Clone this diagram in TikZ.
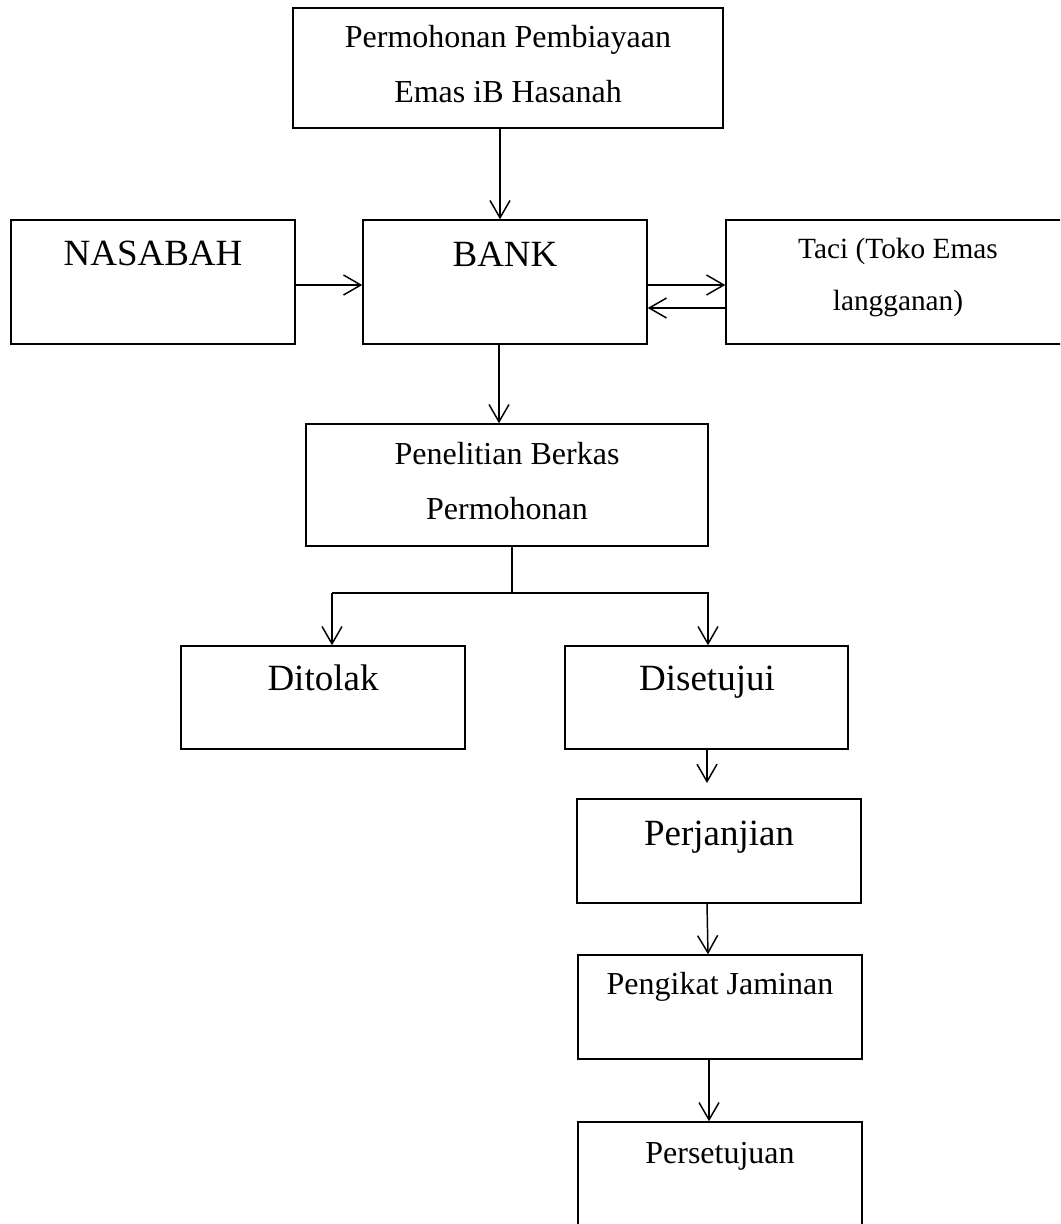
\documentclass[tikz,border=0pt]{standalone}
\usepackage{fontspec}
\setmainfont{Liberation Serif}
\usetikzlibrary{arrows.meta,fit}
\begin{document}
\begin{tikzpicture}[x=0.75pt,y=-0.75pt,
  box/.style={draw=black, line width=1.1pt, inner sep=0pt, fill=none},
  arr/.style={line width=1.1pt, -{Straight Barb[length=13pt,width=15pt,line width=1.1pt]}},
  ln/.style={line width=1.1pt},
  big/.style={anchor=base, inner sep=0pt, font=\fontsize{27.75}{33}\selectfont},
  small/.style={anchor=base, inner sep=0pt, font=\fontsize{24}{29}\selectfont},
  tiny/.style={anchor=base, inner sep=0pt, font=\fontsize{22}{26}\selectfont}]
\useasboundingbox (0,0) rectangle (1060,1224);
\clip (0,0) rectangle (1060,1224);
\fill[white] (0,0) rectangle (1060,1224);

% boxes
\node[box, fit={(293,8) (723,128)}] (perm) {};
\node[box, fit={(11,220) (295,344)}] (nas) {};
\node[box, fit={(363,220) (647,344)}] (bank) {};
\node[box, fit={(726,220) (1072,344)}] (taci) {};
\node[box, fit={(306,424) (708,546)}] (pen) {};
\node[box, fit={(181,646) (465,749)}] (dit) {};
\node[box, fit={(565,646) (848,749)}] (dis) {};
\node[box, fit={(577,799) (861,903)}] (perj) {};
\node[box, fit={(578,955) (862,1059)}] (peng) {};
\node[box, fit={(578,1122) (862,1240)}] (pers) {};

% texts
\node[small] (t1a) at (508,47) {Permohonan Pembiayaan};
\node[small] (t1b) at (508,102) {Emas iB Hasanah};
\node[big] (t2) at (153,265) {NASABAH};
\node[big] (t3) at (505,266) {BANK};
\node[tiny] (t4a) at (898,258) {Taci (Toko Emas};
\node[tiny] (t4b) at (898,310) {langganan)};
\node[small] (t5a) at (507,464) {Penelitian Berkas};
\node[small] (t5b) at (507,519) {Permohonan};
\node[big] (t6) at (323,690) {Ditolak};
\node[big] (t7) at (707,690) {Disetujui};
\node[big] (t8) at (719,845) {Perjanjian};
\node[small] (t9) at (720,994) {Pengikat Jaminan};
\node[small] (t10) at (720,1163) {Persetujuan};

% connectors
\draw[arr] (500,0 |- perm.south) -- (500,0 |- bank.north);
\draw[arr] (nas.east |- 0,285) -- (bank.west |- 0,285);
\draw[arr] (bank.east |- 0,285) -- (taci.west |- 0,285);
\draw[arr] (taci.west |- 0,308) -- (bank.east |- 0,308);
\draw[arr] (499,0 |- bank.south) -- (499,0 |- pen.north);

\coordinate (split) at (512,593);
\draw[ln] (512,0 |- pen.south) -- (split);
\draw[ln] (332,593) -- (709,593);
\draw[arr] (332,593) -- (332,0 |- dit.north);
\draw[arr] (708,593) -- (708,0 |- dis.north);

\coordinate (gapend) at (707,783);
\draw[arr] (707,0 |- dis.south) -- (gapend);
\draw[arr] (707,0 |- perj.south) -- (708,0 |- peng.north);
\draw[arr] (709,0 |- peng.south) -- (709,0 |- pers.north);
\end{tikzpicture}
\end{document}
